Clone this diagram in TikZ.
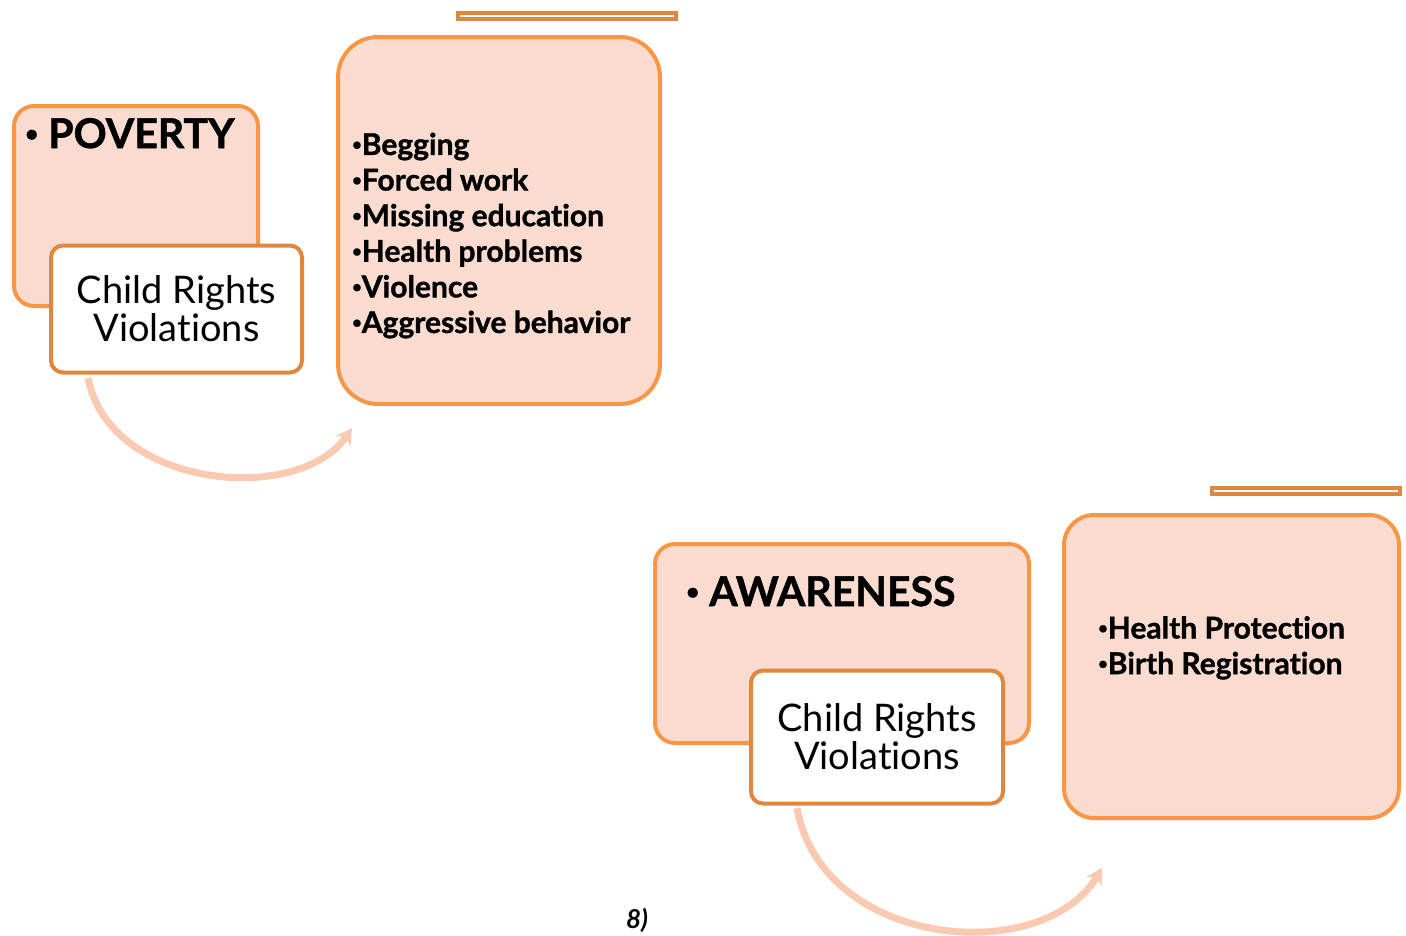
\documentclass[tikz,border=0pt]{standalone}
\usepackage{fontspec}
\setmainfont{Lato}[Ligatures={NoCommon}, BoldFeatures={FakeBold=1.2}]
\usetikzlibrary{arrows.meta}

\definecolor{peach}{HTML}{FADBCF}
\definecolor{rimorange}{HTML}{F79646}
\definecolor{darkrim}{HTML}{E0873F}
\definecolor{arcpeach}{HTML}{F9CAB1}

% small bullet, as in the slide
\newcommand\bul{\raisebox{.16em}{\scalebox{.55}{•}}}

\begin{document}
\begin{tikzpicture}[x=1pt,y=-1pt,
    pinkbox/.style={draw=rimorange, fill=peach, line width=4pt, rounded corners=20pt, inner sep=0pt},
    crvbox/.style={draw=darkrim, fill=white, line width=4pt, rounded corners=12pt, align=center, inner sep=0pt,
        font=\fontsize{38}{38}\selectfont},
    headtxt/.style={anchor=base west, inner sep=0pt, font=\bfseries\fontsize{41}{50}\selectfont},
    listtxt/.style={anchor=north west, align=left, inner sep=0pt, font=\bfseries\fontsize{30}{35.6}\selectfont},
    bar/.style={draw=darkrim, line width=4pt},
    arc/.style={draw=arcpeach, line width=7pt, -{Stealth[length=16pt,width=18pt]}}]
    \useasboundingbox (0,0) rectangle (1406,935);
    %
    % first block: poverty
    \draw[bar] (458,13) rectangle (676,19);
    \node[pinkbox, minimum width=244pt, minimum height=200pt] (poverty) at (136,206) {};
    \node[headtxt] (povtxt) at (25,148) {\bul\ POVERTY};
    \node[pinkbox, rounded corners=40pt, minimum width=322pt, minimum height=367pt] (effects) at (499,220.5) {};
    \node[listtxt] (efftxt) at (352,132.5) {\bul Begging\\\bul Forced work\\\bul Missing education\\\bul Health problems\\\bul Violence\\\bul Aggressive behavior};
    \coordinate (arcend1) at (352,428);
    \draw[arc] (88,378) .. controls (110,490) and (300,505) .. (arcend1);
    \node[crvbox, minimum width=251pt, minimum height=127pt] (crv1) at (176.5,309) {Child Rights\\Violations};
    %
    % second block: awareness
    \draw[bar] (1212,488) rectangle (1400,494);
    \node[pinkbox, minimum width=374pt, minimum height=199pt] (awareness) at (842,643.5) {};
    \node[headtxt] (awtxt) at (686,606) {\bul\ AWARENESS};
    \node[pinkbox, rounded corners=30pt, minimum width=335pt, minimum height=303pt] (measures) at (1231.5,666.5) {};
    \node[listtxt] (meastxt) at (1098,616) {\bul Health Protection\\\bul Birth Registration};
    \coordinate (arcend2) at (1102,868);
    \draw[arc] (797,808) .. controls (822,948) and (1042,968) .. (arcend2);
    \node[crvbox, minimum width=252pt, minimum height=133pt] (crv2) at (877,737) {Child Rights\\Violations};
    %
    \node[font=\bfseries\itshape\fontsize{26}{28}\selectfont] (fignum) at (637,920) {8)};
\end{tikzpicture}
\end{document}
